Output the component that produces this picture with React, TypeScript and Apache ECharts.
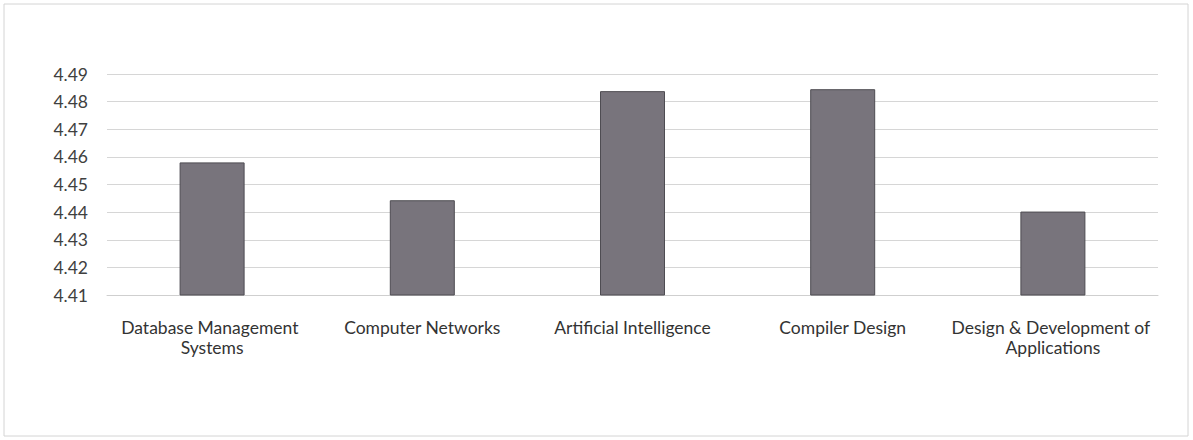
import React, { useEffect, useRef } from "react";
import * as echarts from "echarts";

const categories = [
  "Database Management Systems",
  "Computer Networks",
  "Artificial Intelligence",
  "Compiler Design",
  "Design & Development of Applications",
];
const values = [4.458, 4.4443, 4.4838, 4.4845, 4.4402];
const yMin = 4.41;
const yMax = 4.49;
const yStep = 0.01;

export default function App() {
  const ref = useRef<HTMLDivElement>(null);
  useEffect(() => {
    document.body.style.margin = "0";
    const chart = echarts.init(ref.current!, null, { renderer: "svg" });
    chart.setOption({
      animation: false,
      backgroundColor: "#ffffff",
      textStyle: { fontFamily: "Lato" },
      graphic: [
        {
          type: "rect",
          shape: { x: 4, y: 4, width: 1184, height: 432 },
          style: { fill: "none", stroke: "#d4d4d4", lineWidth: 1 },
          silent: true,
        },
      ],
      grid: { left: 107, right: 35, top: 74, bottom: 145, containLabel: false },
      xAxis: {
        type: "category",
        data: categories,
        axisLine: { show: true, lineStyle: { color: "#cfcfcf" } },
        axisTick: { show: false },
        axisLabel: {
          interval: 0,
          margin: 22,
          fontSize: 17.5,
          color: "#333333",
          lineHeight: 20,
          width: 215,
          overflow: "break",
          fontFamily: "Lato",
        },
      },
      yAxis: {
        type: "value",
        min: yMin,
        max: yMax,
        interval: yStep,
        axisLine: { show: false },
        axisTick: { show: false },
        splitLine: { show: true, lineStyle: { color: "#d6d6d6", width: 1 } },
        axisLabel: {
          fontSize: 17.5,
          color: "#404040",
          margin: 19,
          fontFamily: "Lato",
          formatter: (v: number) => v.toFixed(2),
        },
      },
      series: [
        {
          type: "bar",
          data: values,
          barWidth: 65,
          itemStyle: { color: "#78747c", borderColor: "#4e4c52", borderWidth: 1 },
        },
      ],
    });
    return () => chart.dispose();
  }, []);
  return <div ref={ref} style={{ width: 1193, height: 440 }} />;
}
